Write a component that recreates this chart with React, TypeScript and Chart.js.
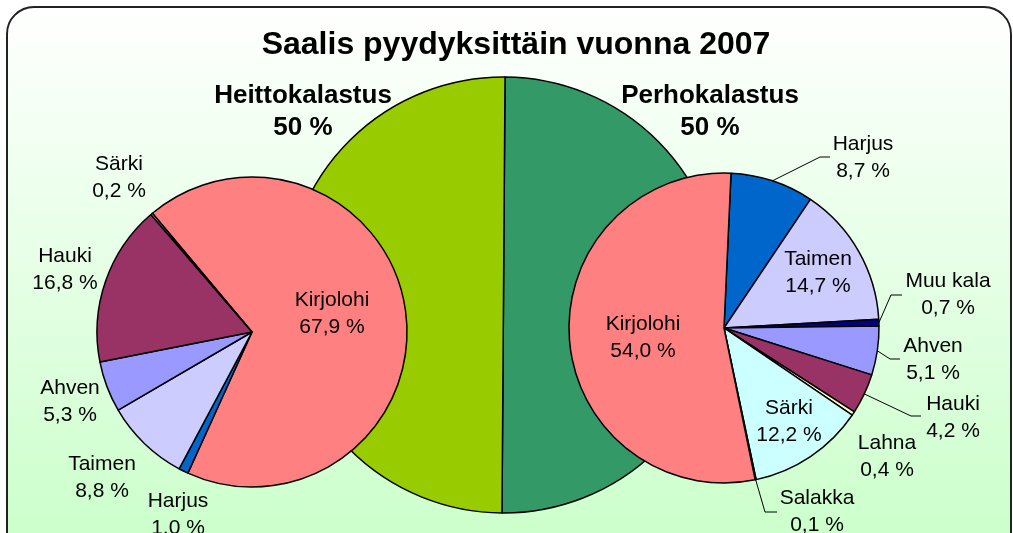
import React, { useEffect, useRef } from "react";
import { Chart, registerables } from "chart.js";

Chart.register(...registerables);

const W = 1013;
const H = 533;
const FONT = '"Liberation Sans", Arial, Helvetica, sans-serif';

// ---- data ----
const titleText = "Saalis pyydyksittäin vuonna 2007";

const mainCategories = ["Perhokalastus", "Heittokalastus"];
const mainValues = [50, 50];
const mainColors = ["#339966", "#99CC00"];

const leftCategories = ["Kirjolohi", "Harjus", "Taimen", "Ahven", "Hauki", "Särki"];
const leftValues = [67.9, 1.0, 8.8, 5.3, 16.8, 0.2];
const leftColors = ["#FF8080", "#0066CC", "#CCCCFF", "#9999FF", "#993366", "#CCFFFF"];

const rightCategories = ["Harjus", "Taimen", "Muu kala", "Ahven", "Hauki", "Lahna", "Särki", "Salakka", "Kirjolohi"];
const rightValues = [8.7, 14.7, 0.7, 5.1, 4.2, 0.4, 12.2, 0.1, 54.0];
const rightColors = ["#0066CC", "#CCCCFF", "#000080", "#9999FF", "#993366", "#FFFFCC", "#CCFFFF", "#333333", "#FF8080"];

// ---- layout (label placement) ----
type LabelPos = { x: number; y: number; elbow?: [number, number, number] };

const mainLabelPos: LabelPos[] = [
  { x: 710, y: 112 },
  { x: 303, y: 112 },
];
const leftLabelPos: LabelPos[] = [
  { x: 332, y: 314 },
  { x: 178, y: 515 },
  { x: 102, y: 478 },
  { x: 70, y: 402 },
  { x: 65, y: 270 },
  { x: 119, y: 178 },
];
const rightLabelPos: LabelPos[] = [
  { x: 863, y: 158, elbow: [820, 157, 830] },
  { x: 818, y: 273 },
  { x: 948, y: 295, elbow: [891, 295, 902] },
  { x: 933, y: 360, elbow: [890, 359, 900] },
  { x: 953, y: 418, elbow: [911, 416, 921] },
  { x: 887, y: 457 },
  { x: 789, y: 422 },
  { x: 817, y: 512, elbow: [765, 512, 777] },
  { x: 643, y: 338 },
];

const fmtPct = (v: number) => v.toFixed(1).replace(".", ",") + " %";
const fmtInt = (v: number) => `${Math.round(v)} %`;

function labelPlugin(
  cats: string[],
  vals: number[],
  pos: LabelPos[],
  font: string,
  lineGap: number,
  fmt: (v: number) => string
) {
  return {
    id: "sliceLabels",
    afterDatasetsDraw(chart: any) {
      const ctx = chart.ctx as CanvasRenderingContext2D;
      const meta = chart.getDatasetMeta(0);
      ctx.save();
      meta.data.forEach((arc: any, i: number) => {
        const p = pos[i];
        if (!p) return;
        const { x, y, startAngle, endAngle, outerRadius } = arc.getProps(
          ["x", "y", "startAngle", "endAngle", "outerRadius"],
          true
        );
        if (p.elbow) {
          const mid = (startAngle + endAngle) / 2;
          ctx.beginPath();
          ctx.moveTo(x + Math.cos(mid) * outerRadius, y + Math.sin(mid) * outerRadius);
          ctx.lineTo(p.elbow[0], p.elbow[1]);
          ctx.lineTo(p.elbow[2], p.elbow[1]);
          ctx.strokeStyle = "#000";
          ctx.lineWidth = 1;
          ctx.stroke();
        }
        ctx.fillStyle = "#000";
        ctx.font = font;
        ctx.textAlign = "center";
        ctx.textBaseline = "middle";
        ctx.fillText(cats[i], p.x, p.y - lineGap / 2);
        ctx.fillText(fmt(vals[i]), p.x, p.y + lineGap / 2);
      });
      ctx.restore();
    },
  };
}

const backgroundPlugin = {
  id: "frameBackground",
  beforeDraw(chart: any) {
    const ctx = chart.ctx as CanvasRenderingContext2D;
    ctx.save();
    const x0 = 7, y0 = 7, x1 = 1011, y1 = 570, r = 27;
    ctx.beginPath();
    ctx.moveTo(x0 + r, y0);
    ctx.lineTo(x1 - r, y0);
    ctx.arcTo(x1, y0, x1, y0 + r, r);
    ctx.lineTo(x1, y1 - r);
    ctx.arcTo(x1, y1, x1 - r, y1, r);
    ctx.lineTo(x0 + r, y1);
    ctx.arcTo(x0, y1, x0, y1 - r, r);
    ctx.lineTo(x0, y0 + r);
    ctx.arcTo(x0, y0, x0 + r, y0, r);
    ctx.closePath();
    const g = ctx.createLinearGradient(0, y0, 0, H);
    g.addColorStop(0, "#FFFFFF");
    g.addColorStop(1, "#CCFFCC");
    ctx.fillStyle = g;
    ctx.fill();
    ctx.strokeStyle = "#222";
    ctx.lineWidth = 2;
    ctx.stroke();
    ctx.restore();
  },
};

const titlePlugin = {
  id: "titleText",
  afterDraw(chart: any) {
    const ctx = chart.ctx as CanvasRenderingContext2D;
    ctx.save();
    ctx.fillStyle = "#000";
    ctx.font = `bold 32px ${FONT}`;
    ctx.textAlign = "center";
    ctx.textBaseline = "middle";
    ctx.fillText(titleText, 516, 45);
    ctx.restore();
  },
};

function pieConfig(
  cats: string[],
  vals: number[],
  colors: string[],
  cx: number,
  cy: number,
  radius: number,
  rotation: number,
  plugins: any[]
): any {
  const s = radius + 3;
  return {
    type: "pie",
    data: {
      labels: cats,
      datasets: [
        {
          data: vals,
          backgroundColor: colors,
          borderColor: "#000",
          borderWidth: 1.5,
        },
      ],
    },
    options: {
      animation: false,
      responsive: false,
      maintainAspectRatio: false,
      devicePixelRatio: 1,
      events: [],
      rotation,
      radius,
      layout: {
        padding: { left: cx - s, right: W - cx - s, top: cy - s, bottom: H - cy - s },
      },
      plugins: {
        legend: { display: false },
        tooltip: { enabled: false },
        title: { display: false },
      },
    },
    plugins,
  };
}

function useChart(ref: React.RefObject<HTMLCanvasElement | null>, make: () => any) {
  useEffect(() => {
    if (!ref.current) return;
    const chart = new Chart(ref.current, make());
    return () => chart.destroy();
  }, []);
}

const canvasStyle: React.CSSProperties = {
  position: "absolute",
  left: 0,
  top: 0,
  width: W,
  height: H,
};

export default function App() {
  const mainRef = useRef<HTMLCanvasElement>(null);
  const leftRef = useRef<HTMLCanvasElement>(null);
  const rightRef = useRef<HTMLCanvasElement>(null);

  useChart(mainRef, () =>
    pieConfig(mainCategories, mainValues, mainColors, 503.5, 295, 218, 0.4, [
      backgroundPlugin,
      titlePlugin,
      labelPlugin(mainCategories, mainValues, mainLabelPos, `bold 26px ${FONT}`, 32, fmtInt),
    ])
  );
  useChart(leftRef, () =>
    pieConfig(leftCategories, leftValues, leftColors, 252, 332, 155, -40, [
      labelPlugin(leftCategories, leftValues, leftLabelPos, `21px ${FONT}`, 27, fmtPct),
    ])
  );
  useChart(rightRef, () =>
    pieConfig(rightCategories, rightValues, rightColors, 724, 328, 155, 2.6, [
      labelPlugin(rightCategories, rightValues, rightLabelPos, `21px ${FONT}`, 27, fmtPct),
    ])
  );

  return (
    <div style={{ position: "fixed", left: 0, top: 0, width: W, height: H, overflow: "hidden", background: "#fff" }}>
      <canvas ref={mainRef} width={W} height={H} style={canvasStyle} />
      <canvas ref={leftRef} width={W} height={H} style={canvasStyle} />
      <canvas ref={rightRef} width={W} height={H} style={canvasStyle} />
    </div>
  );
}
